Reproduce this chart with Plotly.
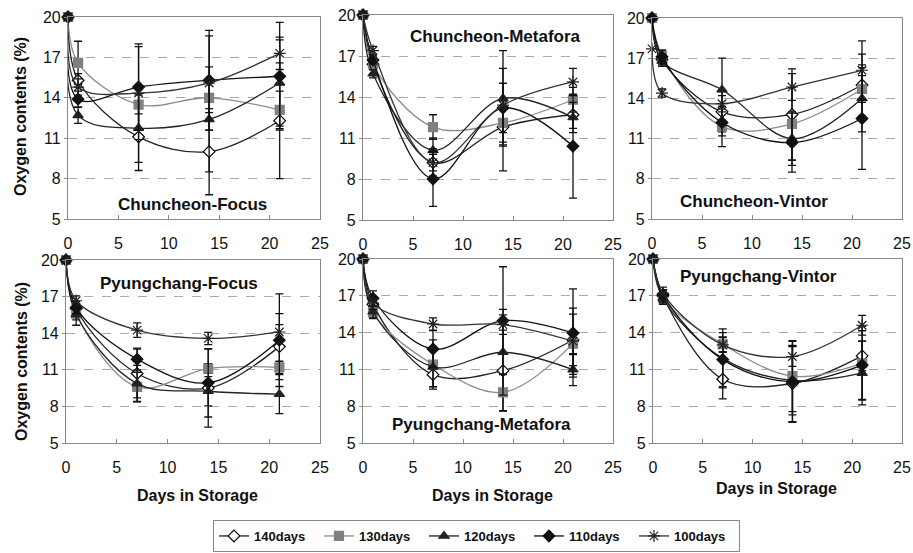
import plotly.graph_objects as go

days = [0, 1, 7, 14, 21]
series_names = ["140days", "130days", "120days", "110days", "100days"]
panel_titles = ["Chuncheon-Focus", "Chuncheon-Metafora", "Chuncheon-Vintor",
                "Pyungchang-Focus", "Pyungchang-Metafora", "Pyungchang-Vintor"]
x_ticks = [0, 5, 10, 15, 20, 25]
y_ticks = [5, 8, 11, 14, 17, 20]

# Oxygen contents (%) per panel and series
cf_vals = {"140days": [20, 15.3, 11.1, 10.0, 12.3], "130days": [20, 16.6, 13.5, 14.0, 13.1],
           "120days": [20, 12.7, 11.75, 12.4, 15.1], "110days": [20, 13.9, 14.8, 15.3, 15.6],
           "100days": [20, 14.8, 14.35, 15.1, 17.3]}
cf_err = {"140days": [0, 0.5, 2.5, 3.2, 4.3], "130days": [0, 1.6, 0.7, 1.1, 1.4],
          "120days": [0, 0.6, 2.55, 3.9, 3.2], "110days": [0, 0.6, 3.2, 3.7, 4.0],
          "100days": [0, 0.6, 3.45, 3.5, 1.2]}

cm_vals = {"140days": [20, 16.4, 9.2, 11.8, 12.7], "130days": [20, 16.4, 11.8, 12.1, 13.8],
           "120days": [20, 15.7, 10.1, 13.9, 12.5], "110days": [20, 16.7, 8.0, 13.2, 10.4],
           "100days": [20, 17.4, 9.2, 13.4, 15.1]}
cm_err = {"140days": [0, 0.4, 0.6, 3.2, 1.0], "130days": [0, 0.4, 0.9, 1.6, 0.9],
          "120days": [0, 0.3, 0.9, 3.5, 1.1], "110days": [0, 0.3, 2.0, 1.8, 3.8],
          "100days": [0, 0.3, 1.0, 2.7, 1.0]}

cv_vals = {"140days": [20, 16.9, 13.0, 12.8, 15.0], "130days": [20, 17.2, 11.9, 12.1, 14.7],
           "120days": [20, 16.8, 14.65, 11.0, 14.0], "110days": [20, 17.1, 12.2, 10.7, 12.5],
           "100days": [17.7, 14.4, 13.6, 14.85, 16.1]}
cv_err = {"140days": [0, 0.4, 1.5, 3.4, 2.3], "130days": [0, 0.4, 1.5, 2.7, 1.0],
          "120days": [0, 0.4, 2.35, 2.0, 2.5], "110days": [0, 0.5, 1.0, 2.2, 3.8],
          "100days": [0, 0.3, 0.6, 1.0, 2.2]}

pf_vals = {"140days": [20, 16.0, 10.7, 9.5, 12.9], "130days": [20, 15.6, 9.6, 11.1, 11.2],
           "120days": [20, 15.55, 9.87, 9.24, 9.0], "110days": [20, 16.1, 11.87, 9.93, 13.43],
           "100days": [20, 16.66, 14.25, 13.57, 14.1]}
pf_err = {"140days": [0, 0.4, 2.0, 3.2, 2.7], "130days": [0, 0.5, 1.2, 0.4, 0.5],
          "120days": [0, 0.9, 1.5, 1.2, 1.6], "110days": [0, 0.5, 0.9, 2.8, 3.8],
          "100days": [0, 0.4, 0.6, 0.5, 0.6]}

pm_vals = {"140days": [20, 16.3, 10.57, 10.9, 13.4], "130days": [20, 15.65, 11.4, 9.13, 13.1],
           "120days": [20, 15.7, 11.2, 12.4, 10.98], "110days": [20, 16.8, 12.66, 14.97, 13.97],
           "100days": [20, 16.4, 14.7, 14.65, 13.3]}
pm_err = {"140days": [0, 0.5, 1.0, 3.3, 2.1], "130days": [0, 0.5, 2.0, 1.5, 0.9],
          "120days": [0, 0.5, 1.6, 3.5, 1.3], "110days": [0, 0.6, 1.5, 4.4, 3.6],
          "100days": [0, 0.5, 0.5, 0.8, 2.7]}

pv_vals = {"140days": [20, 17.0, 10.2, 9.85, 12.1], "130days": [20, 16.8, 13.05, 10.45, 11.5],
           "120days": [20, 16.8, 11.9, 10.1, 10.7], "110days": [20, 17.1, 11.8, 9.99, 11.35],
           "100days": [20, 17.2, 13.0, 12.05, 14.6]}
pv_err = {"140days": [0, 0.5, 1.6, 3.1, 1.2], "130days": [0, 0.5, 0.6, 2.9, 3.0],
          "120days": [0, 0.4, 2.4, 2.8, 2.6], "110days": [0, 0.6, 2.2, 3.3, 2.8],
          "100days": [0, 0.3, 0.6, 0.8, 0.8]}

panel_vals = [cf_vals, cm_vals, cv_vals, pf_vals, pm_vals, pv_vals]
panel_errs = [cf_err, cm_err, cv_err, pf_err, pm_err, pv_err]

W, H = 913, 553
FONT = "Liberation Sans, Arial, sans-serif"


def px(x):
    return x / W


def py(y):
    return 1 - y / H


# page-pixel boxes of the plot areas: (left, right, top, bottom)
boxes = [(68, 320, 17, 219), (363, 613, 15, 220), (652, 902, 18, 219),
         (66, 320, 260, 443), (363, 613, 259, 443), (653, 902, 259, 443)]

styles = {
    "140days": dict(symbol="diamond", color="white", lc="black", line="#222222", size=9),
    "130days": dict(symbol="square", color="#808080", lc="#808080", line="#8a8a8a", size=9),
    "120days": dict(symbol="triangle-up", color="#222222", lc="#222222", line="#222222", size=9),
    "110days": dict(symbol="diamond", color="#111111", lc="#111111", line="#111111", size=9),
    "100days": dict(symbol="asterisk-open", color="#222222", lc="#222222", line="#333333", size=10),
}

fig = go.Figure()
for i in range(6):
    l, r, t, b = boxes[i]
    xa = "xaxis" if i == 0 else f"xaxis{i+1}"
    ya = "yaxis" if i == 0 else f"yaxis{i+1}"
    xref = "x" if i == 0 else f"x{i+1}"
    yref = "y" if i == 0 else f"y{i+1}"
    for name in series_names:
        st = styles[name]
        fig.add_trace(go.Scatter(
            x=days, y=panel_vals[i][name], name=name, legendgroup=name,
            showlegend=(i == 0), xaxis=xref, yaxis=yref,
            mode="lines+markers", cliponaxis=False,
            line=dict(color=st["line"], width=1.3, shape="spline", smoothing=1.0),
            marker=dict(symbol=st["symbol"], size=st["size"], color=st["color"],
                        line=dict(color=st["lc"], width=1.2)),
            error_y=dict(type="data", array=panel_errs[i][name], color="#111111",
                         thickness=1.3, width=4, visible=True),
        ))
    fig.layout[xa] = dict(domain=[px(l), px(r)], range=[0, 25], tickvals=x_ticks,
                          ticks="inside", ticklen=4, tickcolor="#888", showgrid=False,
                          showline=True, linecolor="#888", linewidth=1.2, mirror=True,
                          zeroline=False, anchor=yref, ticklabelstandoff=10, automargin=False,
                          tickfont=dict(size=16, family=FONT, color="#111"))
    fig.layout[ya] = dict(domain=[py(b), py(t)], range=[5, 20], tickvals=y_ticks,
                          ticks="outside", ticklen=3, tickcolor="#888", showgrid=True,
                          gridcolor="#aaaaaa", griddash="dash", gridwidth=1,
                          showline=True, linecolor="#888", linewidth=1.2, mirror=True,
                          zeroline=False, anchor=xref, automargin=False,
                          tickfont=dict(size=16, family=FONT, color="#111"))

title_pos = [(192, 204), (495, 36), (754, 201), (179, 283), (481, 424), (758, 276)]
for (tx, ty), txt in zip(title_pos, panel_titles):
    fig.add_annotation(x=px(tx), y=py(ty), xref="paper", yref="paper", text=f"<b>{txt}</b>",
                       showarrow=False, font=dict(size=17, family=FONT, color="#111"),
                       xanchor="center", yanchor="middle")

for ty in (117, 362):
    fig.add_annotation(x=px(21), y=py(ty), xref="paper", yref="paper",
                       text="<b>Oxygen contents (%)</b>", textangle=-90, showarrow=False,
                       font=dict(size=16, family=FONT, color="#111"),
                       xanchor="center", yanchor="middle")

for tx, ty in ((197, 495), (492, 495), (776, 488)):
    fig.add_annotation(x=px(tx), y=py(ty), xref="paper", yref="paper",
                       text="<b>Days in Storage</b>", showarrow=False,
                       font=dict(size=16, family=FONT, color="#111"),
                       xanchor="center", yanchor="middle")

fig.update_layout(
    width=W, height=H, margin=dict(l=0, r=0, t=0, b=0, autoexpand=False),
    paper_bgcolor="white", plot_bgcolor="white",
    legend=dict(orientation="h", x=px(213), y=py(552), xanchor="left", yanchor="bottom",
                bordercolor="#888", borderwidth=1, bgcolor="white",
                font=dict(size=13, family=FONT, color="#111", weight="bold"),
                traceorder="normal",
                itemwidth=30, entrywidth=60, entrywidthmode="pixels", tracegroupgap=0),
    font=dict(family=FONT),
)

fig.write_html("out.html", config={"displayModeBar": False},
               post_script="document.body.style.margin='0';document.body.style.overflow='hidden';")
